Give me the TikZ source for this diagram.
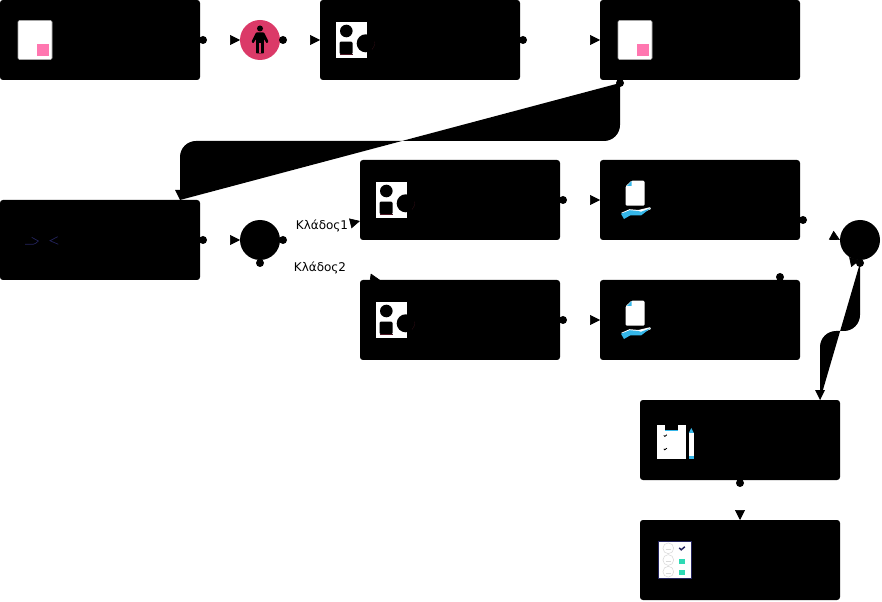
\documentclass[tikz,border=0pt]{standalone}
\usepackage{fontspec}
\setmainfont{DejaVu Sans}
\usetikzlibrary{arrows.meta}
\definecolor{crim}{HTML}{DB3A68}
\definecolor{pinkq}{HTML}{FF77B0}
\definecolor{skyb}{HTML}{35B6E8}
\definecolor{navyi}{HTML}{24245E}
\definecolor{mint}{HTML}{2ED9B4}
\tikzset{
  x=0.75pt,y=-0.75pt,
  card/.style={fill=black,draw=none,rounded corners=2.2pt,inner sep=0,outer sep=0,minimum width=150pt,minimum height=60pt,anchor=north west},
  gate/.style={circle,fill=black,draw=none,inner sep=0,outer sep=0,minimum size=30pt},
  port/.style={circle,fill=black,draw=none,inner sep=0,outer sep=0,minimum size=6pt},
  link/.style={draw=white,line width=0.5pt,-{Triangle[length=7.5pt,width=7.5pt,black,fill=black]}},
  flowfill/.style={fill=black,draw=none},
  lbl/.style={font=\fontsize{9}{11}\selectfont,inner sep=0,text=black},
}
\newcommand{\docicon}[2]{%
  \begin{scope}[shift={(#1,#2)}]
    \fill[white,draw=gray!70,line width=0.4pt,rounded corners=1pt] (18,20.5) rectangle (52,59.5);
    \fill[pinkq] (37.3,44) rectangle (49,56);
  \end{scope}}
\newcommand{\shapeicon}[2]{%
  \begin{scope}[shift={(#1,#2)}]
    \fill[white] (15.7,21.7) rectangle (46.7,58.3);
    \fill[black] (26.3,31) circle (6.3);
    \fill[black,rounded corners=0.8pt] (19.7,41.7) rectangle (32.5,54.2);
    \draw[crim!35!black,line width=0.15pt] (20,54.2) -- (32.5,54.2);
    \fill[black] (45.7,43.3) circle (9);
    \draw[crim!30!black,line width=0.15pt] (52,49.6) arc[start angle=45,end angle=-10,radius=9];
  \end{scope}}
\newcommand{\handicon}[2]{%
  \begin{scope}[shift={(#1,#2)}]
    \fill[white,rounded corners=0.8pt] (31.5,20.7) -- (44.5,20.7) -- (44.5,45.7) -- (25.7,45.7) -- (25.7,26.2) -- cycle;
    \fill[skyb] (26.8,26) -- (31.7,21) -- (31.7,26) -- cycle;
    \fill[white] (21,53) -- (29.5,49.2) -- (38.3,50) -- (50,47.2) -- (50.9,49) -- (40,54) -- (30,54) -- cycle;
    \fill[skyb] (21,53.8) -- (29.8,50.2) -- (38.3,51) -- (41,51.8) -- (50.4,48.2) -- (41,55.5) -- (30,55.5) -- (24,59) -- cycle;
  \end{scope}}

\begin{document}
\begin{tikzpicture}
\useasboundingbox (0,0) rectangle (882,602);

% cards
\node[card] (c1) at (0,0) {};
\node[card] (c2) at (320,0) {};
\node[card] (c3) at (600,0) {};
\node[card] (c4) at (0,200) {};
\node[card] (c5) at (360,160) {};
\node[card] (c6) at (600,160) {};
\node[card] (c7) at (360,280) {};
\node[card] (c8) at (600,280) {};
\node[card] (c9) at (640,400) {};
\node[card] (c10) at (640,520) {};

% gates
\node[gate,fill=crim] (g1) at (260,40) {};
\node[gate] (g2) at (260,240) {};
\node[gate] (g3) at (860,240) {};

% ports
\node[port] (p1) at (203,40) {};
\node[port] (p2) at (283,40) {};
\node[port] (p3) at (523,40) {};
\node[port] (p4) at (620,83) {};
\node[port] (p5) at (203,240) {};
\node[port] (p6) at (283,240) {};
\node[port] (p7) at (260,263) {};
\node[port] (p8) at (563,200) {};
\node[port] (p9) at (563,320) {};
\node[port] (p10) at (803,220) {};
\node[port] (p11) at (780,277) {};
\node[port] (p12) at (860,263) {};
\node[port] (p13) at (740,483) {};

% connector ends
\coordinate (t5) at (360,221);
\coordinate (t7) at (380,280);
\coordinate (t3b) at (840,240);
\coordinate (t3c) at (860,260);
\coordinate (t4) at (180,200);
\coordinate (t9) at (820,400);

% straight connectors
\draw[link] (p1) -- (g1.west);
\draw[link] (p2) -- (c2.west);
\draw[link] (p3) -- (c3.west);
\draw[link] (p5) -- (g2.west);
\draw[link] (p6) -- (t5);
\draw[link] (p7) -- (t7);
\draw[link] (p8) -- (c6.west);
\draw[link] (p9) -- (c8.west);
\draw[link] (p10) -- (t3b);
\draw[link] (p11) -- (t3c);
\draw[link] (p13) -- (c10.north);

% large black self-crossing connectors
\fill[flowfill] (p4.center) -- (620,125) arc[start angle=0,end angle=90,radius=16] -- (196,141) arc[start angle=-90,end angle=-180,radius=16] -- (t4) -- cycle;
\fill[flowfill] (p12.center) -- (860,315) arc[start angle=0,end angle=90,radius=16] -- (836,331) arc[start angle=-90,end angle=-180,radius=16] -- (t9) -- cycle;
\fill[black] (175,190) -- (185,190) -- (t4) -- cycle;
\fill[black] (815,390) -- (825,390) -- (t9) -- cycle;

% labels
\node[lbl] (l1) at (322,226) {Κλάδος1};
\node[lbl] (l2) at (320,268) {Κλάδος2};

% icons
\docicon{0}{0}
\docicon{600}{0}
\shapeicon{320}{0}
\shapeicon{360}{160}
\shapeicon{360}{280}
\handicon{600}{160}
\handicon{600}{280}

% person
\fill[black] (260,28.5) circle (3);
\fill[black,rounded corners=0.5pt] (256,32.5) -- (264,32.5) -- (268.5,41.5) -- (266.8,43.5) -- (264,39) -- (263.8,53.5) -- (256.2,53.5) -- (256,39) -- (253.2,43.5) -- (251.5,41.5) -- cycle;
\fill[crim] (259.3,43.5) rectangle (260.8,53.5);

% chevrons
\draw[navyi,line width=0.5pt] (25,244.3) -- (33.3,244.3) .. controls (35.5,243.8) and (37,242.5) .. (38.3,241) -- (31.7,237.3);
\draw[navyi,line width=0.5pt] (57.7,236.7) -- (50,240.7) -- (58.3,244.3);

% clipboard
\fill[white] (656.7,425) rectangle (686,459.3);
\fill[black] (665,425) rectangle (678.3,429.5);
\fill[skyb] (665,429.5) rectangle (678.3,430.8);
\draw[black,line width=0.6pt] (663.8,435.4) -- (664.8,436.4) -- (666.8,434.8);
\draw[black,line width=0.6pt] (663.8,448.8) -- (664.8,449.8) -- (666.8,448.2);
% pencil
\fill[skyb] (688.8,433) -- (691.3,428) -- (693.8,433) -- cycle;
\fill[white] (688.8,433) rectangle (693.8,455.5);
\fill[skyb] (688.8,455.5) rectangle (693.8,459.3);

% survey sheet
\fill[white,draw=navyi,line width=0.8pt] (658.6,541.2) rectangle (691.4,578.4);
\foreach \yy in {548.3,560,571.7}{
  \draw[gray!30,line width=0.4pt] (668.3,\yy) circle (5.4);
  \draw[gray!30,line width=0.3pt] (665.8,\yy+1) -- (670.8,\yy+1);
}
\draw[navyi,line width=1.1pt] (679.2,547.8) -- (681.2,549.8) -- (684.8,546.8);
\fill[mint] (679.3,558.5) rectangle (685,563.5);
\fill[mint] (679.3,570) rectangle (685,575);
\end{tikzpicture}
\end{document}
